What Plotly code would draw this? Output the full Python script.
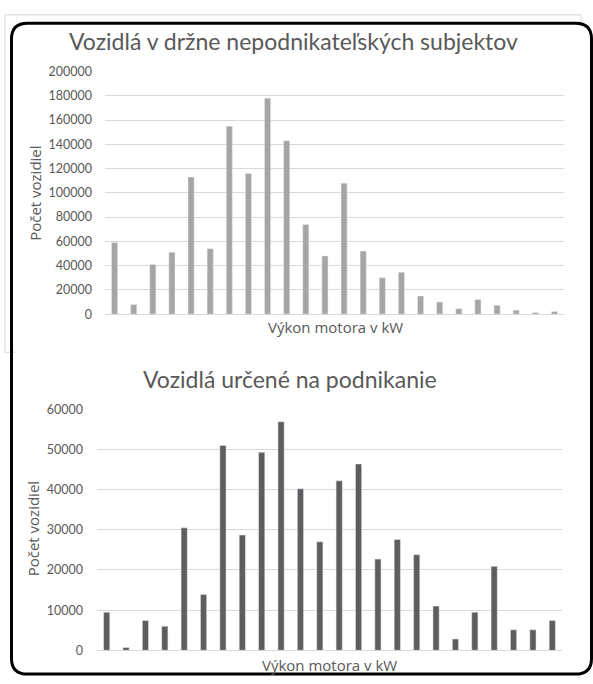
import plotly.graph_objects as go

# Engine power bins (kW) - labels are not shown on the axis
power_bins = [f"bin {i}" for i in range(1, 25)]

# Vehicles held by non-business owners
private_counts = [59000, 8000, 41000, 51000, 113000, 54000, 155000, 116000,
                  178000, 143000, 74000, 48000, 108000, 52000, 30000, 34500,
                  15000, 10000, 4500, 12000, 7300, 3300, 1400, 2200]

# Vehicles used for business
business_counts = [9500, 700, 7400, 6000, 30500, 13900, 51000, 28700,
                   49300, 56900, 40200, 27000, 42200, 46400, 22700, 27600,
                   23800, 11000, 2800, 9500, 20900, 5100, 5100, 7400]

top_ticks = list(range(0, 200001, 20000))
bottom_ticks = list(range(0, 60001, 10000))

top_title = "Vozidlá v držne nepodnikateľských subjektov"
bottom_title = "Vozidlá určené na podnikanie"
x_title = "Výkon motora v kW"
y_title = "Počet vozidiel"

W, H = 593, 684
FONT = "Lato"
AXIS_FONT = "Open Sans"
TEXT = "#595959"
GRID = "#d9d9d9"


def px(x):
    return x / W


def py(y):
    return 1 - y / H


fig = go.Figure()
fig.add_trace(go.Bar(x=power_bins, y=private_counts, marker_color="#a5a5a5",
                     xaxis="x", yaxis="y", showlegend=False))
fig.add_trace(go.Bar(x=power_bins, y=business_counts, marker_color="#5e5e5e",
                     xaxis="x2", yaxis="y2", showlegend=False))

axis_common = dict(showgrid=False, showticklabels=False, ticks="", showline=False,
                   zeroline=False, fixedrange=True)
yaxis_common = dict(showgrid=True, gridcolor=GRID, gridwidth=1, zeroline=True,
                    zerolinecolor=GRID, zerolinewidth=1, showline=False, ticks="",
                    tickfont=dict(family=FONT, size=12.5, color=TEXT), ticklen=0,
                    fixedrange=True)

# rounded black frame path in paper coordinates
x0, x1, y0, y1, r = 11.5, 591.5, 15.5, 681.0, 16


def frame_path():
    pts = [
        f"M {px(x0 + r)},{py(y0)}",
        f"L {px(x1 - r)},{py(y0)}",
        f"Q {px(x1)},{py(y0)} {px(x1)},{py(y0 + r)}",
        f"L {px(x1)},{py(y1 - r)}",
        f"Q {px(x1)},{py(y1)} {px(x1 - r)},{py(y1)}",
        f"L {px(x0 + r)},{py(y1)}",
        f"Q {px(x0)},{py(y1)} {px(x0)},{py(y1 - r)}",
        f"L {px(x0)},{py(y0 + r)}",
        f"Q {px(x0)},{py(y0)} {px(x0 + r)},{py(y0)}",
        "Z",
    ]
    return " ".join(pts)


light = dict(color="#d4d4d4", width=1)
shapes = [
    dict(type="line", xref="paper", yref="paper", x0=px(5), x1=px(581), y0=py(7), y1=py(7), line=light),
    dict(type="line", xref="paper", yref="paper", x0=px(5), x1=px(5), y0=py(7), y1=py(352), line=light),
    dict(type="line", xref="paper", yref="paper", x0=px(5), x1=px(15), y0=py(352), y1=py(352), line=light),
    dict(type="line", xref="paper", yref="paper", x0=px(581), x1=px(581), y0=py(7), y1=py(15), line=light),
    dict(type="path", xref="paper", yref="paper", path=frame_path(),
         line=dict(color="black", width=3)),
]

annotations = [
    dict(text=top_title, x=px(293), y=py(34), font=dict(family=FONT, size=23, color=TEXT)),
    dict(text=bottom_title, x=px(290), y=py(379), font=dict(family=FONT, size=23, color=TEXT)),
    dict(text=x_title, x=px(335), y=py(326), font=dict(family=AXIS_FONT, size=15, color=TEXT)),
    dict(text=x_title, x=px(329), y=py(672), font=dict(family=AXIS_FONT, size=15, color=TEXT)),
    dict(text=y_title, x=px(35), y=py(190), textangle=-90, font=dict(family=AXIS_FONT, size=15, color=TEXT)),
    dict(text=y_title, x=px(33), y=py(533), textangle=-90, font=dict(family=AXIS_FONT, size=15, color=TEXT)),
]
for a in annotations:
    a.update(xref="paper", yref="paper", xanchor="center", yanchor="middle", showarrow=False)

fig.update_layout(
    width=W, height=H,
    margin=dict(l=0, r=0, t=0, b=0),
    paper_bgcolor="white", plot_bgcolor="white",
    bargap=0.68,
    xaxis=dict(domain=[px(105), px(564)], anchor="y", **axis_common),
    yaxis=dict(domain=[py(313), py(65)], anchor="x", range=[0, 200000],
               tickvals=top_ticks, ticktext=[str(v) for v in top_ticks],
               ticklabelstandoff=12, **yaxis_common),
    xaxis2=dict(domain=[px(97), px(562)], anchor="y2", **axis_common),
    yaxis2=dict(domain=[py(656.7), py(410.3)], anchor="x2", range=[0, 60000],
                tickvals=bottom_ticks, ticktext=[str(v) for v in bottom_ticks],
                ticklabelstandoff=13, **yaxis_common),
    shapes=shapes,
    annotations=annotations,
)

fig.write_html("out.html")
